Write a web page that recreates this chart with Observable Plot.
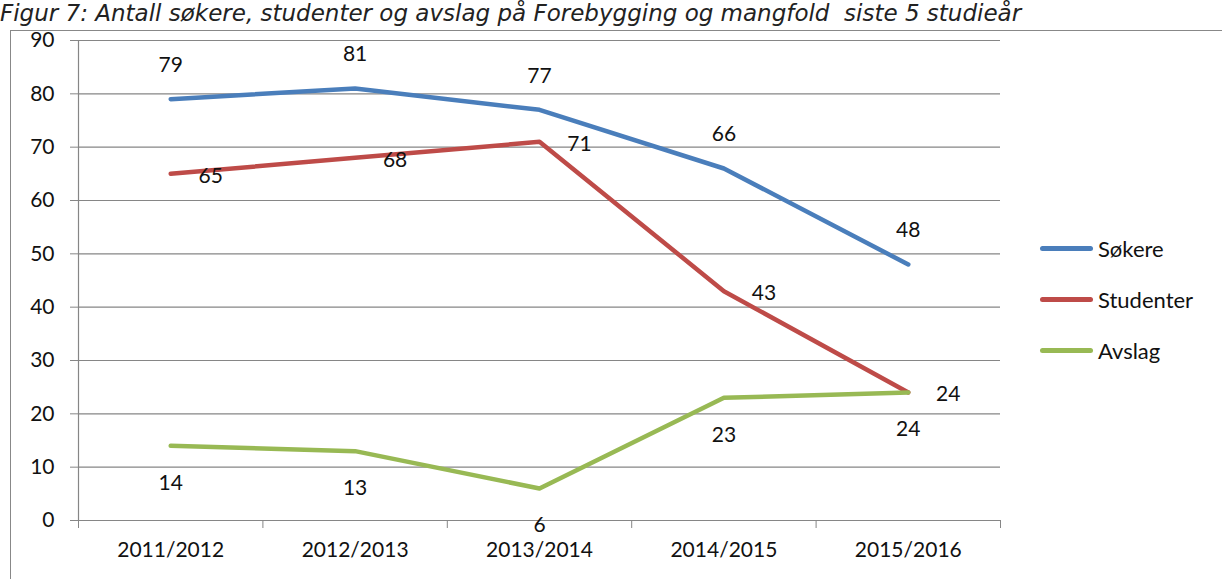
<!DOCTYPE html>
<html><head><meta charset="utf-8">
<script src="https://cdn.jsdelivr.net/npm/d3@7"></script>
<script src="https://cdn.jsdelivr.net/npm/@observablehq/plot@0.6"></script>
<style>
body{margin:0;background:#fff;font-family:Lato,"Open Sans",sans-serif;overflow:hidden;}
#wrap{position:relative;width:1222px;height:579px;}
#title{position:absolute;left:0;top:0px;font-style:italic;font-size:23px;line-height:26px;color:#222;white-space:pre;font-family:"DejaVu Sans",sans-serif;}
#frame{position:absolute;left:10px;top:30px;width:2000px;height:1000px;border:1.5px solid #888;box-sizing:border-box;}
#chart{position:absolute;left:0;top:0;}
#legend{position:absolute;left:1040px;top:223px;font-size:22px;color:#111;}
#legend div{display:flex;align-items:center;height:51px;}
#legend span.sw{display:inline-block;width:53px;height:5px;border-radius:3px;margin-right:5px;}
</style></head>
<body><div id="wrap"><div id="frame"></div><div id="chart"></div><div id="title"></div><div id="legend"></div></div>
<script>
const title = "Figur 7: Antall søkere, studenter og avslag på Forebygging og mangfold  siste 5 studieår";
const categories = ["2011/2012","2012/2013","2013/2014","2014/2015","2015/2016"];
const seriesNames = ["Søkere","Studenter","Avslag"];
const sokere = [79,81,77,66,48];
const studenter = [65,68,71,43,24];
const avslag = [14,13,6,23,24];
const colors = ["#4A7EBB","#BE4B48","#98B954"];
const yTicks = [0,10,20,30,40,50,60,70,80,90];

document.getElementById("title").textContent = title;

const valuesBySeries = [sokere, studenter, avslag];
const data = [];
seriesNames.forEach((s, si) => valuesBySeries[si].forEach((v, i) => data.push({series: s, cat: categories[i], i: i + 0.5, v})));

const labelOffsets = {"Søkere": {dx: 0, dy: -34}, "Studenter": {dx: 40, dy: 2}, "Avslag": {dx: 0, dy: 37}};
const labelMarks = seriesNames.map(s => Plot.text(data.filter(d => d.series === s), {
  x: "i", y: "v", text: d => String(d.v), fontSize: 21, fill: "#111",
  dx: labelOffsets[s].dx, dy: labelOffsets[s].dy
}));
const chart = Plot.plot({
  width: 1222, height: 579,
  marginLeft: 78, marginRight: 222, marginTop: 40, marginBottom: 59,
  style: {fontFamily: "Lato, 'Open Sans', sans-serif", background: "transparent", overflow: "visible"},
  x: {type: "linear", domain: [0, categories.length], axis: null},
  y: {domain: [0, 90], axis: null},
  color: {domain: seriesNames, range: colors},
  marks: [
    Plot.ruleY(yTicks, {stroke: "#868686", strokeWidth: 1.2, x1: 0, x2: categories.length}),
    Plot.ruleX([0], {stroke: "#868686", strokeWidth: 1.2}),
    Plot.axisY({ticks: yTicks, tickSize: 8, tickPadding: 16, fontSize: 21, stroke: "#868686", fill: "#111", label: null, tickFormat: d => String(d)}),
    Plot.axisX({ticks: d3.range(0, categories.length + 1), tickSize: 8, tickFormat: () => "", stroke: "#868686", label: null}),
    Plot.axisX({ticks: categories.map((c, i) => i + 0.5), tickSize: 0, tickPadding: 22, fontSize: 21, fill: "#111", label: null, tickFormat: d => categories[Math.floor(d)]}),
    Plot.line(data, {x: "i", y: "v", z: "series", stroke: "series", strokeWidth: 4.5, strokeLinejoin: "round", strokeLinecap: "round"}),
    ...labelMarks
  ]
});
document.getElementById("chart").appendChild(chart);

const leg = document.getElementById("legend");
seriesNames.forEach((s, i) => {
  const d = document.createElement("div");
  d.innerHTML = `<span class="sw" style="background:${colors[i]}"></span>${s}`;
  leg.appendChild(d);
});
</script></body></html>
